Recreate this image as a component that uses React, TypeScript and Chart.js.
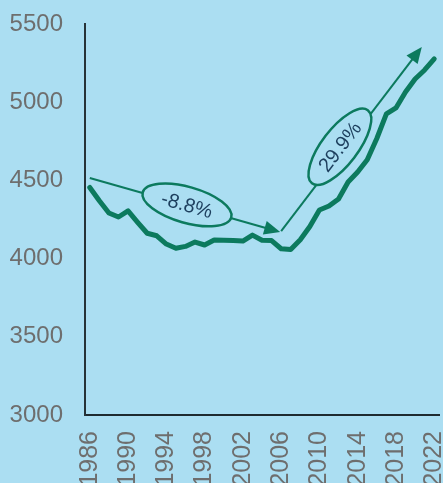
import React, { useEffect, useRef } from 'react';
import { Chart, registerables } from 'chart.js';

Chart.register(...registerables);

const years = [
  1986, 1987, 1988, 1989, 1990, 1991, 1992, 1993, 1994, 1995,
  1996, 1997, 1998, 1999, 2000, 2001, 2002, 2003, 2004, 2005,
  2006, 2007, 2008, 2009, 2010, 2011, 2012, 2013, 2014, 2015,
  2016, 2017, 2018, 2019, 2020, 2021, 2022,
];
const values = [
  4455, 4370, 4292, 4266, 4305, 4232, 4162, 4146, 4093, 4066,
  4078, 4106, 4087, 4119, 4117, 4115, 4112, 4150, 4117, 4115,
  4063, 4058, 4120, 4205, 4311, 4336, 4381, 4490, 4554, 4632,
  4768, 4925, 4963, 5065, 5148, 5206, 5277,
];
const yMin = 3000;
const yMax = 5500;
const yStep = 500;
const labelEvery = 4;

// annotation arrows (data space)
const arrowFromYears = [1986, 2006];
const arrowFromValues = [4515, 4176];
const arrowToYears = [2005.9, 2020.7];
const arrowToValues = [4170, 5353];
const badgeTexts = ['-8.8%', '29.9%'];
const badgeYears = [1996.16, 2012.14];
const badgeValues = [4343, 4715];

const BG = '#abdef2';
const GREEN = '#0c7a5e';
const TEXT = '#1d3f5e';
const TICK = '#6e6e6e';
const FONT = '"Liberation Sans", Arial, sans-serif';

const bgPlugin = {
  id: 'bg',
  beforeDraw(chart: any) {
    const { ctx, width, height } = chart;
    ctx.save();
    ctx.fillStyle = BG;
    ctx.fillRect(0, 0, width, height);
    ctx.restore();
  },
};

const arrowPlugin = {
  id: 'arrows',
  afterDatasetsDraw(chart: any) {
    const { ctx } = chart;
    const xs = chart.scales.x;
    const ys = chart.scales.y;
    const px = (yr: number) => xs.getPixelForValue(yr - years[0]);
    ctx.save();
    for (let i = 0; i < badgeTexts.length; i++) {
      const x1 = px(arrowFromYears[i]);
      const y1 = ys.getPixelForValue(arrowFromValues[i]);
      const x2 = px(arrowToYears[i]);
      const y2 = ys.getPixelForValue(arrowToValues[i]);
      const ang = Math.atan2(y2 - y1, x2 - x1);
      const c = Math.cos(ang);
      const s = Math.sin(ang);
      const head = 16;
      const hw = 7;
      const bx = x2 - head * c;
      const by = y2 - head * s;
      ctx.strokeStyle = GREEN;
      ctx.fillStyle = GREEN;
      ctx.lineWidth = 2;
      ctx.beginPath();
      ctx.moveTo(x1, y1);
      ctx.lineTo(bx + 2 * c, by + 2 * s);
      ctx.stroke();
      ctx.beginPath();
      ctx.moveTo(x2, y2);
      ctx.lineTo(bx - hw * s, by + hw * c);
      ctx.lineTo(bx + hw * s, by - hw * c);
      ctx.closePath();
      ctx.fill();

      const cx = px(badgeYears[i]);
      const cy = ys.getPixelForValue(badgeValues[i]);
      ctx.beginPath();
      ctx.ellipse(cx, cy, 46, 18, ang, 0, Math.PI * 2);
      ctx.fillStyle = BG;
      ctx.fill();
      ctx.lineWidth = 2.5;
      ctx.strokeStyle = GREEN;
      ctx.stroke();

      ctx.save();
      ctx.translate(cx, cy);
      ctx.rotate(ang);
      ctx.font = `20px ${FONT}`;
      ctx.fillStyle = TEXT;
      ctx.textAlign = 'center';
      ctx.textBaseline = 'middle';
      ctx.fillText(badgeTexts[i], 0, 1);
      ctx.restore();
    }
    ctx.restore();
  },
};

export default function App() {
  const ref = useRef<HTMLCanvasElement>(null);

  useEffect(() => {
    document.body.style.margin = '0';
    document.body.style.background = BG;
    document.body.style.overflow = 'hidden';
    const canvas = ref.current;
    if (!canvas) return;
    const chart = new Chart(canvas, {
      type: 'line',
      data: {
        labels: years.map(String),
        datasets: [
          {
            data: values,
            borderColor: GREEN,
            borderWidth: 5,
            pointRadius: 0,
            tension: 0,
            fill: false,
            borderJoinStyle: 'round',
            borderCapStyle: 'round',
          },
        ],
      },
      options: {
        responsive: false,
        animation: false,
        devicePixelRatio: 1,
        layout: { padding: { top: 24, right: 4, left: 0, bottom: 0 } },
        plugins: {
          legend: { display: false },
          tooltip: { enabled: false },
        },
        scales: {
          x: {
            type: 'category',
            offset: true,
            grid: { display: false, drawTicks: false },
            border: { display: true, color: '#1e2a30', width: 2 },
            ticks: {
              autoSkip: false,
              maxRotation: 90,
              minRotation: 90,
              padding: 16,
              color: TICK,
              font: { family: FONT, size: 25 },
              callback: (_v: any, i: number) =>
                (years[i] - years[0]) % labelEvery === 0 ? String(years[i]) : '',
            },
            afterFit: (sc: any) => {
              sc.height = 68;
              sc.paddingLeft = 0;
              sc.paddingRight = 0;
            },
          },
          y: {
            min: yMin,
            max: yMax,
            grid: { display: false, drawTicks: false },
            border: { display: true, color: '#263238', width: 2 },
            ticks: {
              stepSize: yStep,
              padding: 22,
              color: TICK,
              font: { family: FONT, size: 24 },
              callback: (v: any) => String(v),
            },
            afterFit: (sc: any) => {
              sc.width = 85;
              sc.paddingTop = 0;
              sc.paddingBottom = 0;
            },
          },
        },
      },
      plugins: [bgPlugin, arrowPlugin],
    } as any);
    return () => chart.destroy();
  }, []);

  return (
    <div style={{ width: 443, height: 483, background: BG, overflow: 'hidden' }}>
      <canvas ref={ref} width={443} height={483} style={{ display: 'block', width: 443, height: 483 }} />
    </div>
  );
}
